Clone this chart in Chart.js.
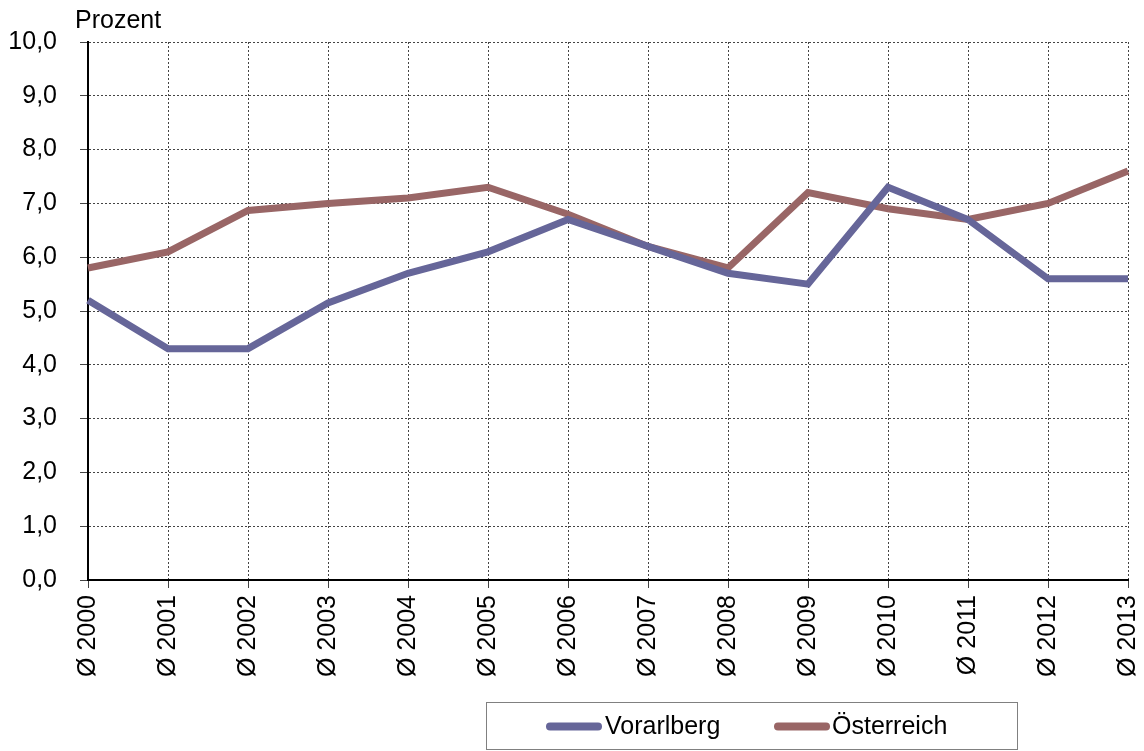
<!DOCTYPE html>
<html>
<head>
<meta charset="utf-8">
<script src="https://cdn.jsdelivr.net/npm/chart.js@4.4.1/dist/chart.umd.min.js"></script>
<style>
  html, body { margin: 0; padding: 0; background: #fff; }
  #wrap { width: 1144px; height: 751px; position: relative; }
</style>
</head>
<body>
<div id="wrap"><canvas id="c" width="1144" height="751"></canvas></div>
<script>
// Arbeitslosenquote im Jahresdurchschnitt
const categories = ['Ø 2000', 'Ø 2001', 'Ø 2002', 'Ø 2003', 'Ø 2004', 'Ø 2005', 'Ø 2006',
                    'Ø 2007', 'Ø 2008', 'Ø 2009', 'Ø 2010', 'Ø 2011', 'Ø 2012', 'Ø 2013'];
const vorarlberg = [5.2, 4.3, 4.3, 5.15, 5.7, 6.1, 6.7, 6.2, 5.7, 5.5, 7.3, 6.7, 5.6, 5.6];
const oesterreich = [5.8, 6.1, 6.87, 7.0, 7.1, 7.3, 6.8, 6.2, 5.8, 7.2, 6.9, 6.7, 7.0, 7.6];
const seriesNames = ['Vorarlberg', 'Österreich'];
const seriesColors = ['#666699', '#996666'];
const yTitle = 'Prozent';

const FONT = '"Liberation Sans", Arial, sans-serif';
const FS = 25;

// Axis unit label and framed legend below the plot
const decorations = {
  id: 'decorations',
  afterDraw(chart) {
    const ctx = chart.ctx;
    ctx.save();
    ctx.fillStyle = '#000';
    ctx.font = FS + 'px ' + FONT;
    ctx.textAlign = 'left';
    ctx.textBaseline = 'alphabetic';
    ctx.fillText(yTitle, 75, 28);

    // legend frame
    const bx = 486.5, by = 702.5, bw = 531, bh = 47;
    ctx.strokeStyle = '#808080';
    ctx.lineWidth = 1;
    ctx.strokeRect(bx, by, bw, bh);

    const items = [
      { x1: 550, x2: 598, tx: 605 },
      { x1: 778, x2: 826, tx: 832 }
    ];
    const cy = 726.5;
    chart.data.datasets.forEach((ds, i) => {
      const it = items[i];
      ctx.strokeStyle = ds.borderColor;
      ctx.lineWidth = 8;
      ctx.lineCap = 'round';
      ctx.beginPath();
      ctx.moveTo(it.x1, cy);
      ctx.lineTo(it.x2, cy);
      ctx.stroke();
      ctx.fillStyle = '#000';
      ctx.textBaseline = 'middle';
      ctx.fillText(ds.label, it.tx, cy + 1);
    });
    ctx.restore();
  }
};

new Chart(document.getElementById('c'), {
  type: 'line',
  data: {
    labels: categories,
    datasets: [
      { label: seriesNames[0], data: vorarlberg, borderColor: seriesColors[0], backgroundColor: seriesColors[0],
        borderWidth: 7, pointRadius: 0, tension: 0, borderJoinStyle: 'miter' },
      { label: seriesNames[1], data: oesterreich, borderColor: seriesColors[1], backgroundColor: seriesColors[1],
        borderWidth: 7, pointRadius: 0, tension: 0, borderJoinStyle: 'miter' }
    ]
  },
  options: {
    responsive: false,
    animation: false,
    devicePixelRatio: 1,
    layout: { padding: { top: 42, right: 16, left: 0, bottom: 0 } },
    plugins: { legend: { display: false }, tooltip: { enabled: false } },
    scales: {
      x: {
        offset: false,
        afterFit(scale) { scale.height = 171; scale.paddingRight = 0; scale.paddingLeft = 0; },
        grid: { color: '#444', lineWidth: 1, tickLength: 8 },
        border: { color: '#000', width: 2, dash: [2, 2] },
        ticks: { color: '#000', font: { family: FONT, size: FS }, minRotation: 90, maxRotation: 90, padding: 7, autoSkip: false }
      },
      y: {
        min: 0, max: 10,
        afterFit(scale) { scale.width = 88; },
        grid: { color: '#444', lineWidth: 1, tickLength: 8 },
        border: { color: '#000', width: 2, dash: [2, 2] },
        ticks: {
          stepSize: 1, color: '#000', padding: 23,
          font: { family: FONT, size: FS },
          callback: (v) => v.toFixed(1).replace('.', ',')
        }
      }
    }
  },
  plugins: [decorations]
});
</script>
</body>
</html>
